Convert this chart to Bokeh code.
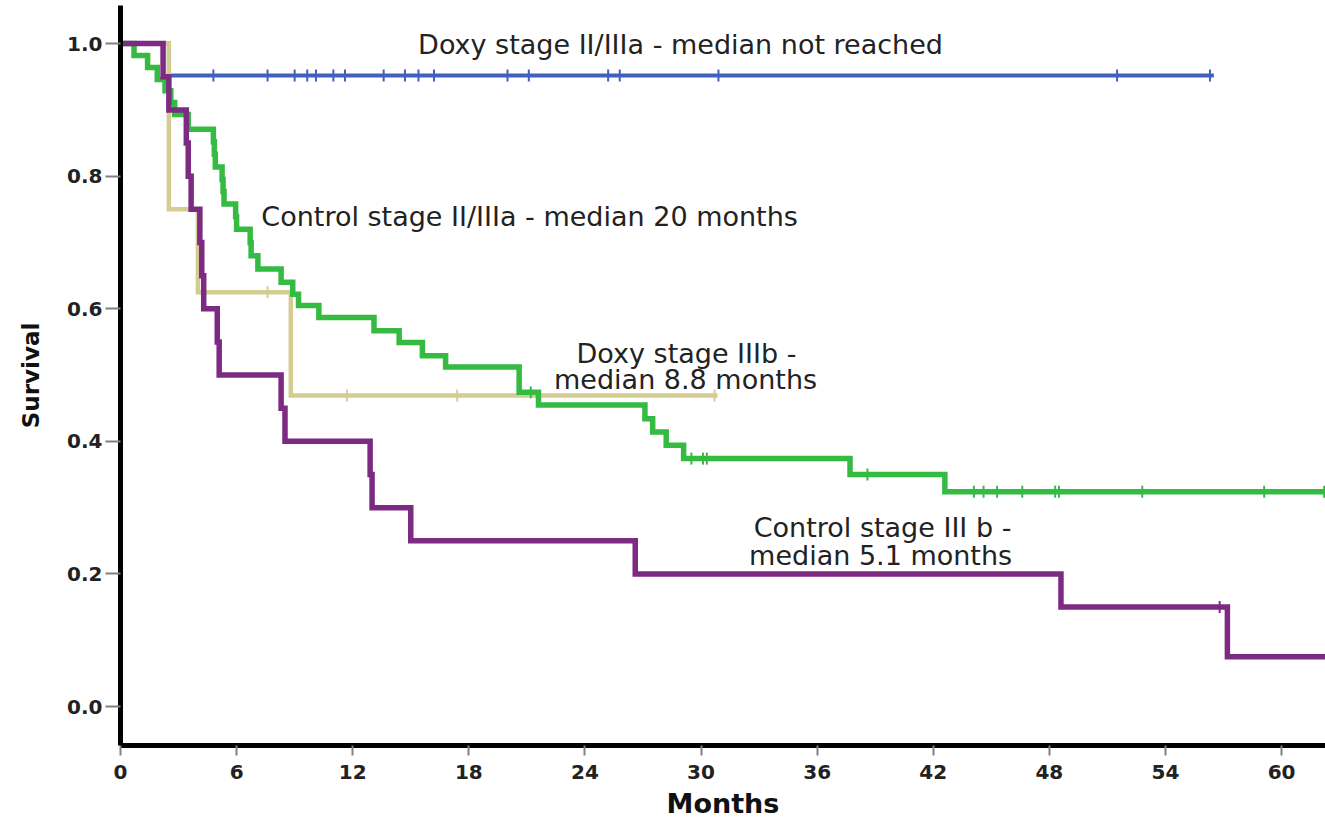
import numpy as np
from bokeh.plotting import figure
from bokeh.models import Range1d, FixedTicker, PrintfTickFormatter, Label
from bokeh.embed import file_html
from bokeh.resources import INLINE

# ---------------- data ----------------
month_ticks = [0, 6, 12, 18, 24, 30, 36, 42, 48, 54, 60]
surv_ticks = [0.0, 0.2, 0.4, 0.6, 0.8, 1.0]

# Doxy stage II/IIIa
doxy_early_t = [0, 2.5, 56.5]
doxy_early_s = [1.0, 0.952, 0.952]
doxy_early_cens = [4.8, 7.6, 9.0, 9.65, 10.1, 11.0, 11.6, 13.6, 14.7, 15.4, 16.2,
                   20.0, 21.1, 25.2, 25.8, 30.9, 51.5, 56.3]

# Control stage II/IIIa
ctrl_early_t = [0, 0.7, 1.4, 1.9, 2.3, 2.6, 2.8, 3.5, 4.8, 4.85, 4.9, 5.25, 5.3, 5.35,
                5.95, 6.0, 6.7, 6.75, 7.1, 8.3, 8.9, 9.2, 10.25, 13.1, 14.4, 15.6, 16.8,
                20.6, 21.6, 27.1, 27.5, 28.2, 29.1, 37.7, 42.6, 63.0]
ctrl_early_s = [1.0, 0.982, 0.964, 0.946, 0.929, 0.911, 0.893, 0.871, 0.852, 0.833, 0.814,
                0.795, 0.777, 0.758, 0.739, 0.72, 0.70, 0.68, 0.66, 0.64, 0.622, 0.605,
                0.587, 0.567, 0.549, 0.529, 0.512, 0.474, 0.455, 0.434, 0.414, 0.394,
                0.374, 0.35, 0.324, 0.324]
ctrl_early_cens = [21.2, 29.5, 30.1, 30.3, 38.6, 44.1, 44.6, 45.3, 46.6, 48.3, 48.5,
                   52.8, 59.1, 62.2]

# Doxy stage IIIb
doxy_late_t = [0, 2.5, 4.0, 8.8, 30.85]
doxy_late_s = [1.0, 0.75, 0.625, 0.469, 0.469]
doxy_late_cens = [7.6, 11.7, 17.4, 30.7]

# Control stage IIIb
ctrl_late_t = [0, 2.2, 2.5, 3.4, 3.5, 3.65, 4.1, 4.2, 4.3, 5.0, 5.1, 8.3, 8.5, 12.9,
               13.0, 15.0, 26.6, 48.6, 57.2, 63.0]
ctrl_late_s = [1.0, 0.95, 0.90, 0.85, 0.80, 0.75, 0.70, 0.65, 0.60, 0.55, 0.50, 0.45,
               0.40, 0.35, 0.30, 0.25, 0.20, 0.15, 0.075, 0.075]
ctrl_late_cens = [56.8]

annotations = [
    ("Doxy stage II/IIIa - median not reached", 28.94, 0.9985),
    ("Control stage II/IIIa - median 20 months", 21.14, 0.739),
    ("Doxy stage IIIb -", 29.25, 0.533),
    ("median 8.8 months", 29.2, 0.494),
    ("Control stage III b -", 39.38, 0.270),
    ("median 5.1 months", 39.28, 0.228),
]

# --------------- figure ---------------
p = figure(width=1325, height=822, output_backend="svg", toolbar_location=None,
           x_range=Range1d(0, 62.27), y_range=Range1d(-0.0588, 1.0575),
           min_border_left=120, min_border_right=0, min_border_top=5,
           min_border_bottom=77)
p.outline_line_color = None
p.grid.visible = False
p.background_fill_color = "white"
p.border_fill_color = "white"


def surv_at(ts, ss, c):
    i = np.searchsorted(np.array(ts), c, side="right") - 1
    return ss[max(i, 0)]


series = [
    (doxy_early_t, doxy_early_s, doxy_early_cens, "#4160BE", 4),
    (doxy_late_t, doxy_late_s, doxy_late_cens, "#D4CC92", 4.5),
    (ctrl_early_t, ctrl_early_s, ctrl_early_cens, "#35BB42", 5.5),
    (ctrl_late_t, ctrl_late_s, ctrl_late_cens, "#7C2A82", 5.5),
]
for ts, ss, cens, col, lw in series:
    p.step(x=ts, y=ss, mode="after", line_color=col, line_width=lw,
           line_join="miter", line_cap="butt")
    cy = [surv_at(ts, ss, c) for c in cens]
    p.scatter(x=cens, y=cy, marker="dash", size=12, angle=np.pi / 2,
              line_color=col, line_width=2)

for txt, x, y in annotations:
    p.add_layout(Label(x=x, y=y, text=txt, text_align="center",
                       text_baseline="middle", text_font="DejaVu Sans",
                       text_font_size="27px", text_color="#222222"))

# axes
p.xaxis.ticker = FixedTicker(ticks=month_ticks)
p.yaxis.ticker = FixedTicker(ticks=surv_ticks)
p.yaxis.formatter = PrintfTickFormatter(format="%.1f")
for ax in (p.xaxis, p.yaxis):
    ax.axis_line_color = "black"
    ax.axis_line_width = 5
    ax.major_tick_line_color = "#808080"
    ax.major_tick_line_width = 2
    ax.major_tick_in = 0
    ax.minor_tick_line_color = None
    ax.major_label_text_font = "DejaVu Sans"
    ax.major_label_text_font_style = "bold"
    ax.major_label_text_font_size = "20px"
    ax.major_label_text_color = "#222222"
    ax.axis_label_text_font = "DejaVu Sans"
    ax.axis_label_text_font_style = "bold"
    ax.axis_label_text_color = "#111111"

p.xaxis.major_tick_out = 10
p.xaxis.major_label_standoff = 9
p.xaxis.axis_label = "Months"
p.xaxis.axis_label_text_font_size = "27px"
p.xaxis.axis_label_standoff = 6

p.yaxis.major_tick_out = 15
p.yaxis.major_label_standoff = 3
p.yaxis.axis_label = "Survival"
p.yaxis.axis_label_text_font_size = "23px"
p.yaxis.axis_label_standoff = 20

open("out.html", "w").write(file_html(p, INLINE))
